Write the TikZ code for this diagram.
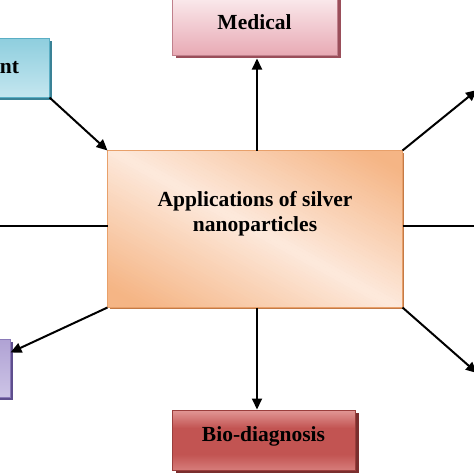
\documentclass[tikz,border=0pt]{standalone}
\usepackage{fontspec}
\setmainfont{Liberation Serif}
\usetikzlibrary{arrows.meta,shadows}
\definecolor{pdark}{HTML}{F5B585}
\definecolor{plight}{HTML}{FDE9DC}
\definecolor{pborder}{HTML}{E8A06A}
\definecolor{pshadow}{HTML}{C47A46}
\definecolor{medtop}{HTML}{FDF3F5}
\definecolor{medbot}{HTML}{E8AAB4}
\definecolor{medborder}{HTML}{C0808C}
\definecolor{medshadow}{HTML}{9A4E5A}
\definecolor{btop}{HTML}{E29896}
\definecolor{bmid}{HTML}{C25452}
\definecolor{bbot}{HTML}{D67C7A}
\definecolor{bborder}{HTML}{9A3E3C}
\definecolor{bshadow}{HTML}{7A2E2E}
\definecolor{cytop}{HTML}{8ECEDE}
\definecolor{cybot}{HTML}{C4E6EF}
\definecolor{cyborder}{HTML}{5AAEC4}
\definecolor{cyshadow}{HTML}{3A8296}
\definecolor{putop}{HTML}{B0A2D4}
\definecolor{pubot}{HTML}{CDC4E6}
\definecolor{puborder}{HTML}{8A7AB8}
\definecolor{pushadow}{HTML}{5E4E8E}
\pgfdeclareverticalshading{bioshade}{100bp}{color(0bp)=(bbot); color(25bp)=(bbot); color(38bp)=(bmid); color(60bp)=(bmid); color(75bp)=(btop); color(100bp)=(btop)}
\begin{document}
\begin{tikzpicture}[x=1pt,y=-1pt,
  boxbase/.style={draw, line width=1pt, inner sep=0pt, align=center,
    font=\bfseries\fontsize{21.5}{25}\selectfont},
  centerbox/.style={boxbase, draw=pborder, fill=pdark,
    general shadow={fill=pshadow, shadow xshift=2pt, shadow yshift=-2pt}},
  medbox/.style={boxbase, draw=medborder, top color=medtop, bottom color=medbot,
    general shadow={fill=medshadow, shadow xshift=4pt, shadow yshift=-3pt}},
  biobox/.style={boxbase, draw=bborder, shading=bioshade,
    general shadow={fill=bshadow, shadow xshift=4pt, shadow yshift=-3pt}},
  cybox/.style={boxbase, draw=cyborder, top color=cytop, bottom color=cybot,
    general shadow={fill=cyshadow, shadow xshift=3pt, shadow yshift=-3pt}},
  pubox/.style={boxbase, draw=puborder, top color=putop, bottom color=pubot,
    general shadow={fill=pushadow, shadow xshift=3pt, shadow yshift=-3pt}},
  labeltext/.style={font=\bfseries\fontsize{21.5}{25}\selectfont, align=center, inner sep=0pt},
  arr/.style={line width=2pt, -{Triangle[length=11pt,width=10pt]}},
  ln/.style={line width=2pt}
]
\useasboundingbox (0,0) rectangle (474,474);
\node[centerbox, minimum width=294pt, minimum height=156pt] (c) at (255,229) {};
\begin{scope}
  \clip (c.north west) rectangle (c.south east);
  \foreach \k in {-50,...,50} {
    \pgfmathsetmacro{\xa}{108+\k*6}
    \pgfmathtruncatemacro{\p}{min(100, abs(\k*6+3)/2.5)}
    \fill[pdark!\p!plight] (\xa,148) -- (\xa+7,148) -- (\xa+7+294,310) -- (\xa+294,310) -- cycle;
  }
\end{scope}
\draw[pborder, line width=1pt] (c.north west) rectangle (c.south east);
\node[labeltext] (ct) at (255,214) {Applications of silver\\nanoparticles};
\node[medbox, minimum width=165pt, minimum height=66pt] (med) at (254.5,22) {Medical};
\node[biobox, minimum width=183pt, minimum height=60pt, text depth=11pt] (bio) at (263.5,440) {Bio-diagnosis};
\node[cybox, minimum height=59pt, text width=50pt, align=right, inner xsep=30pt] (cy) at (-6,67.5) {nt};
\node[pubox, minimum width=100pt, minimum height=58pt] (pu) at (-40,368) {};
\coordinate (tr) at (477,90);
\coordinate (br) at (477,373);
\coordinate (rm) at (480,226);
\coordinate (lm) at (-6,226);
\draw[arr] ([xshift=2pt]c.north) -- ([xshift=2pt,yshift=-3pt]c.north |- med.south);
\draw[arr] ([xshift=2pt]c.south) -- ([xshift=2pt]c.south |- bio.north);
\draw[arr] (cy.south east) -- (c.north west);
\draw[arr] (c.north east) -- (tr);
\draw[arr] (c.south east) -- (br);
\draw[arr] (c.south west) -- ([yshift=-14pt]pu.north east);
\draw[ln] (c.east |- rm) -- (rm);
\draw[ln] (lm) -- (c.west |- lm);
\end{tikzpicture}
\end{document}
